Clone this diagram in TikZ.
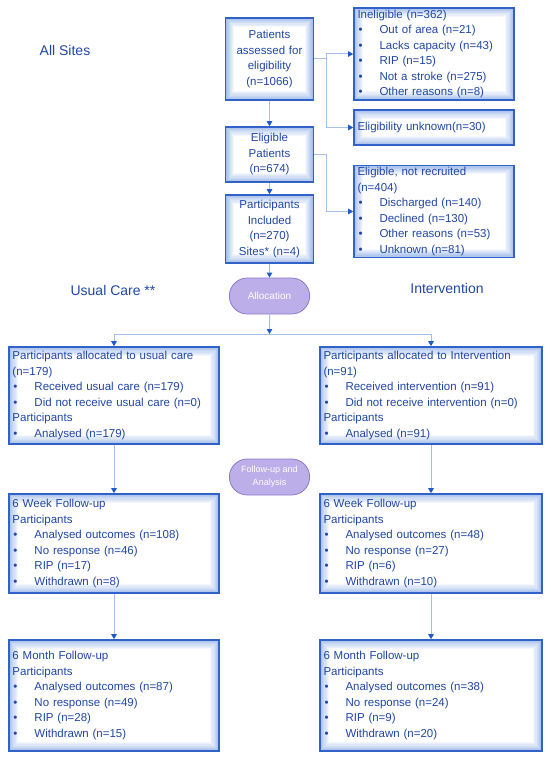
\documentclass[tikz,border=0pt]{standalone}
\usepackage{fontspec}
\setmainfont{Liberation Sans}
\usetikzlibrary{arrows.meta,shapes.misc}

\definecolor{textblue}{RGB}{32,70,165}
\definecolor{boxblue}{RGB}{48,98,200}
\definecolor{edgeblue}{RGB}{165,190,235}
\definecolor{lineblue}{RGB}{165,192,232}
\definecolor{tipblue}{RGB}{30,90,205}
\definecolor{pillfill}{RGB}{188,174,232}
\definecolor{pilldraw}{RGB}{140,122,205}

\tikzset{
  box/.style={draw=boxblue, line width=1.6pt, text=textblue, inner xsep=3.5pt, inner ysep=2pt,
    font=\fontsize{11.5}{15.5}\selectfont,
    path picture={
      \foreach \k [evaluate=\k as \pct using int(100-12.5*\k)] in {0,...,8}
        \fill[edgeblue!\pct!white]
          ([shift={(\k*1.1pt,-\k*1.1pt)}]path picture bounding box.north west) rectangle
          ([shift={(-\k*1.1pt,\k*1.1pt)}]path picture bounding box.south east);
    }},
  cbox/.style={box, align=center, text width=81pt, minimum height=#1},
  lbox/.style={box, align=left, text width=#1},
  pill/.style={rounded rectangle, draw=pilldraw, fill=pillfill, text=white, line width=0.8pt,
    minimum width=87pt, minimum height=36pt, align=center},
  head/.style={text=textblue, font=\fontsize{14}{16}\selectfont},
  link/.style={draw=lineblue, line width=1pt, -{Triangle[length=5pt,width=5.5pt,color=tipblue]}},
}

\newcommand{\bul}[1]{\makebox[22pt][l]{\hspace{1pt}\textbullet}#1}

\begin{document}
\begin{tikzpicture}[x=1pt,y=-1pt]
\useasboundingbox (0,0) rectangle (550,759);

\node[head] (allsites) at (65,50) {All Sites};
\node[head] (ucare) at (113,290) {Usual Care **};
\node[head] (inter) at (447,288) {Intervention};

\node[cbox=82pt] (assess) at (269.5,59) {Patients\\assessed for\\eligibility\\(n=1066)};
\node[cbox=55pt] (elig) at (269.5,154.5) {Eligible\\Patients\\(n=674)};
\node[cbox=68pt] (incl) at (269.5,229) {Participants\\Included\\(n=270)\\Sites* (n=4)};

\node[lbox=153pt, minimum height=90pt] (inel) at (434,54) {Ineligible (n=362)\\
  \bul{Out of area (n=21)}\\ \bul{Lacks capacity (n=43)}\\ \bul{RIP (n=15)}\\
  \bul{Not a stroke (n=275)}\\ \bul{Other reasons (n=8)}};
\node[lbox=153pt, minimum height=35pt] (unk) at (434,127.5) {Eligibility unknown(n=30)};
\node[lbox=153pt, minimum height=91pt] (notrec) at (434,211.5) {Eligible, not recruited\\(n=404)\\
  \bul{Discharged (n=140)}\\ \bul{Declined (n=130)}\\ \bul{Other reasons (n=53)}\\
  \bul{Unknown (n=81)}};

\node[pill, font=\fontsize{10}{12}\selectfont] (alloc) at (269.5,296) {Allocation};
\coordinate (split) at (269.5,334);

\node[lbox=203pt, minimum height=97pt] (uc1) at (114,395.5) {Participants allocated to usual care\\(n=179)\\
  \bul{Received usual care (n=179)}\\ \bul{Did not receive usual care (n=0)}\\
  Participants\\ \bul{Analysed (n=179)}};
\node[lbox=215pt, minimum height=97pt] (iv1) at (431,395.5) {Participants allocated to Intervention\\(n=91)\\
  \bul{Received intervention (n=91)}\\ \bul{Did not receive intervention (n=0)}\\
  Participants\\ \bul{Analysed (n=91)}};

\node[pill, font=\fontsize{9}{13}\selectfont] (follow) at (269.5,477) {Follow-up and\\Analysis};

\node[lbox=203pt, minimum height=99pt] (uc2) at (114,543.5) {6 Week Follow-up\\Participants\\
  \bul{Analysed outcomes (n=108)}\\ \bul{No response (n=46)}\\ \bul{RIP (n=17)}\\ \bul{Withdrawn (n=8)}};
\node[lbox=215pt, minimum height=99pt] (iv2) at (431,543.5) {6 Week Follow-up\\Participants\\
  \bul{Analysed outcomes (n=48)}\\ \bul{No response (n=27)}\\ \bul{RIP (n=6)}\\ \bul{Withdrawn (n=10)}};

\node[lbox=203pt, minimum height=111pt] (uc3) at (114,695.5) {6 Month Follow-up\\Participants\\
  \bul{Analysed outcomes (n=87)}\\ \bul{No response (n=49)}\\ \bul{RIP (n=28)}\\ \bul{Withdrawn (n=15)}};
\node[lbox=215pt, minimum height=111pt] (iv3) at (431,695.5) {6 Month Follow-up\\Participants\\
  \bul{Analysed outcomes (n=38)}\\ \bul{No response (n=24)}\\ \bul{RIP (n=9)}\\ \bul{Withdrawn (n=20)}};

\draw[link] (assess) -- (elig);
\draw[link] (elig) -- (incl);
\draw[link] (incl) -- (alloc);
\draw[link] (assess.east) -- ++(12,0) |- (inel.west);
\draw[link] (assess.east) -- ++(12,0) |- (unk.west);
\draw[link] (elig.east) -- ++(12,0) |- (notrec.west);
\draw[link] (alloc) -- (split);
\draw[link] (split) -| (uc1.north);
\draw[link] (split) -| (iv1.north);
\draw[link] (uc1) -- (uc2);
\draw[link] (uc2) -- (uc3);
\draw[link] (iv1) -- (iv2);
\draw[link] (iv2) -- (iv3);
\end{tikzpicture}
\end{document}
